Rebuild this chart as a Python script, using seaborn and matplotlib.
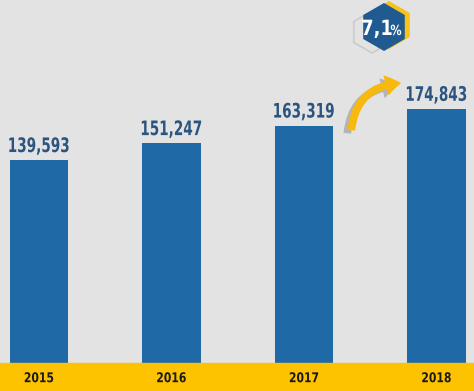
import matplotlib
matplotlib.use("Agg")
import matplotlib.pyplot as plt
from matplotlib.patches import RegularPolygon, FancyArrowPatch, PathPatch
from matplotlib.textpath import TextPath
from matplotlib.font_manager import FontProperties
from matplotlib.transforms import Affine2D
import seaborn as sns
import pandas as pd

years = ["2015", "2016", "2017", "2018"]
values = [139593, 151247, 163319, 174843]
growth_label = "7,1"

df = pd.DataFrame({"year": years, "value": values})

sns.set_style("white")
plt.rcParams["font.family"] = ["Liberation Sans", "DejaVu Sans"]

W, H = 474, 391
fig = plt.figure(figsize=(W / 100, H / 100), dpi=100)
fig.patch.set_facecolor("#e3e3e3")
ax = fig.add_axes([0, 0, 1, 1])
ax.set_facecolor("#e3e3e3")

sns.barplot(data=df, x="year", y="value", color="#1f69a6", width=0.44,
            saturation=1, linewidth=0, ax=ax)

ax.set_xlim(-0.294, 3.283)
ax.set_ylim(-19300, 249700)
ax.axhspan(-19300, 0, color="#fdc300", zorder=3)
ax.set_xlabel("")
ax.set_ylabel("")
ax.set_xticks([])
ax.set_yticks([])
sns.despine(ax=ax, left=True, bottom=True)

# overlay in pixel space (y down) for condensed labels and decorations
ov = fig.add_axes([0, 0, 1, 1])
ov.set_xlim(0, W)
ov.set_ylim(H, 0)
ov.axis("off")
ov.patch.set_alpha(0)

bold = FontProperties(family="DejaVu Sans", weight="bold")


def narrow_text(x, y, s, size, color, squeeze=0.72, zorder=5):
    # draw text horizontally condensed, centred at x, baseline at y (pixels)
    tp = TextPath((0, 0), s, size=size, prop=bold)
    ext = tp.get_extents()
    tr = Affine2D().translate(-(ext.x0 + ext.x1) / 2, 0).scale(squeeze, -1).translate(x, y)
    ov.add_patch(PathPatch(tr.transform_path(tp), facecolor=color,
                           edgecolor="none", zorder=zorder))


fig.canvas.draw()
for i, (yr, v) in enumerate(zip(years, values)):
    px, py = ax.transData.transform((i, v))
    narrow_text(px, H - py - 8, f"{v:,}", 20, "#2b5580", squeeze=0.68)
    bx, by = ax.transData.transform((i, -9800))
    narrow_text(bx, H - by + 5, yr, 13.5, "#1a1a1a", squeeze=0.8)

# badge
ov.add_patch(RegularPolygon((372, 32), 6, radius=21, orientation=0,
                            facecolor="none", edgecolor="#cbcbcb", lw=1.2))
ov.add_patch(RegularPolygon((389, 25), 6, radius=24, orientation=0,
                            facecolor="#f7c21a", edgecolor="none"))
ov.add_patch(RegularPolygon((384, 27), 6, radius=24, orientation=0,
                            facecolor="#1f5a90", edgecolor="none"))
narrow_text(377, 35, growth_label, 21, "white", squeeze=0.85, zorder=6)
narrow_text(396, 35, "%", 14, "white", squeeze=0.8, zorder=6)

# growth arrow
style = "simple,head_length=11,head_width=15,tail_width=5.5"
ov.add_patch(FancyArrowPatch((347, 136), (400, 86), connectionstyle="arc3,rad=-0.45",
                             arrowstyle=style, color="#8f8f8f", alpha=0.55, lw=0))
ov.add_patch(FancyArrowPatch((351, 133), (404, 83), connectionstyle="arc3,rad=-0.45",
                             arrowstyle=style, color="#f7b90c", lw=0))

fig.savefig("out.png", dpi=100, facecolor=fig.get_facecolor())
